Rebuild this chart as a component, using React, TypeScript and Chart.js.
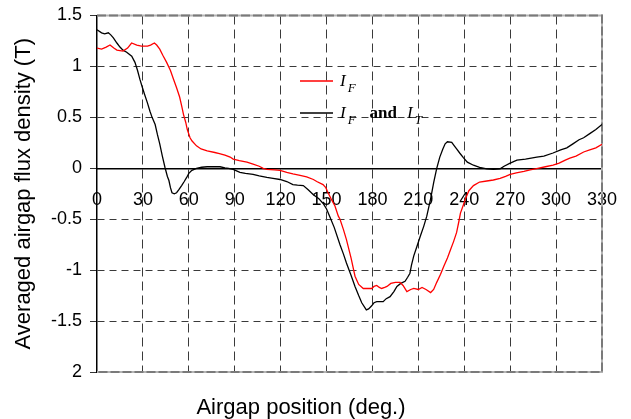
import React, { useEffect, useRef } from 'react';
import { Chart, registerables } from 'chart.js';

Chart.register(...registerables);

// ---- data ----
const xTickValues = [0, 30, 60, 90, 120, 150, 180, 210, 240, 270, 300, 330];
const yTickValues = [1.5, 1, 0.5, 0, -0.5, -1, -1.5, -2];
const yTickLabels = ['1.5', '1', '0.5', '0', '-0.5', '-1', '-1.5', '2'];

const seriesNames = ['I_F', 'I_F and I_T'];

const redDeg = [0, 3, 6, 8.5, 11, 13, 17, 20, 22.6, 26, 29, 33, 35, 37.5, 39, 41, 43, 45.5, 48, 50, 52, 54, 55.5, 56.5, 58, 59, 60.8, 62, 65, 68, 72, 77, 80, 83.6, 87, 89, 93, 98, 102, 106, 108.6, 111, 116, 119.6, 124, 128, 132.7, 137, 141.4, 143.6, 147.7, 149.5, 151, 153, 155.5, 157.7, 158.8, 161, 163, 166, 168.6, 171, 174, 177, 179.5, 181, 182.8, 184.5, 186, 188, 189.5, 192, 195, 198, 200, 202.5, 205, 207, 210, 212.4, 215, 218, 220, 222, 224.5, 226.7, 229, 231, 233, 235, 236.5, 237.5, 239.4, 240.8, 243, 246, 250, 254.7, 259, 263.4, 267, 270, 274, 279, 283, 288, 293, 298, 302, 306, 309, 313, 318, 322, 326, 330];
const redVal = [1.18, 1.17, 1.19, 1.21, 1.18, 1.16, 1.15, 1.18, 1.23, 1.21, 1.2, 1.2, 1.21, 1.23, 1.21, 1.17, 1.11, 1.04, 0.96, 0.875, 0.79, 0.7, 0.6, 0.53, 0.45, 0.38, 0.3, 0.27, 0.22, 0.19, 0.17, 0.155, 0.145, 0.13, 0.11, 0.09, 0.075, 0.06, 0.04, 0.02, 0.0, -0.01, -0.015, -0.02, -0.04, -0.055, -0.07, -0.085, -0.11, -0.13, -0.16, -0.19, -0.24, -0.3, -0.37, -0.47, -0.5, -0.6, -0.7, -0.88, -1.06, -1.14, -1.18, -1.18, -1.18, -1.16, -1.15, -1.17, -1.18, -1.17, -1.16, -1.13, -1.12, -1.12, -1.15, -1.21, -1.19, -1.18, -1.19, -1.17, -1.19, -1.22, -1.19, -1.12, -1.04, -0.96, -0.88, -0.8, -0.72, -0.63, -0.52, -0.44, -0.36, -0.3, -0.22, -0.17, -0.135, -0.125, -0.115, -0.1, -0.08, -0.06, -0.045, -0.03, -0.015, 0.0, 0.015, 0.03, 0.05, 0.08, 0.1, 0.12, 0.16, 0.18, 0.2, 0.235];

const blackDeg = [0, 3, 5, 7.4, 9, 10.7, 13, 15, 17, 19.4, 22.7, 24.8, 26.5, 28, 29.5, 31, 33, 34.6, 36, 38, 39.5, 41, 42.7, 44.4, 46, 47, 48, 49, 50.5, 52, 53.5, 55.3, 57, 58.6, 60, 62, 65, 68.4, 72, 77, 80.4, 83.6, 86, 89, 93.4, 97, 102, 106, 111, 115, 119.6, 124, 128, 131, 134.8, 138, 141.4, 145, 148, 150, 152, 155, 158.8, 161, 163, 166, 168.6, 171, 173, 176, 177.5, 179.5, 181, 182.8, 185, 187, 189, 191.5, 194, 196, 198.5, 201.3, 203, 204.5, 205.5, 207, 209, 211.2, 213.5, 215.5, 218, 220, 222, 224, 226, 227.5, 229, 231.8, 233.5, 235, 237, 239.4, 242, 246, 250, 254.7, 259, 263.4, 266, 270, 274.4, 280, 287.4, 292, 298, 303, 307, 311, 315, 318, 322, 326, 330];
const blackVal = [1.36, 1.33, 1.32, 1.33, 1.31, 1.28, 1.23, 1.19, 1.16, 1.14, 1.1, 1.04, 0.96, 0.875, 0.8, 0.73, 0.64, 0.56, 0.5, 0.43, 0.33, 0.24, 0.12, 0.01, -0.08, -0.12, -0.19, -0.24, -0.25, -0.24, -0.21, -0.17, -0.13, -0.09, -0.05, -0.02, 0.0, 0.01, 0.015, 0.015, 0.015, 0.005, 0.0, -0.01, -0.04, -0.05, -0.06, -0.075, -0.09, -0.1, -0.11, -0.13, -0.16, -0.165, -0.17, -0.21, -0.26, -0.3, -0.35, -0.4, -0.47, -0.58, -0.75, -0.84, -0.93, -1.05, -1.16, -1.25, -1.32, -1.39, -1.38, -1.35, -1.32, -1.31, -1.31, -1.31, -1.28, -1.26, -1.21, -1.16, -1.13, -1.11, -1.07, -1.03, -0.95, -0.86, -0.77, -0.67, -0.57, -0.47, -0.3, -0.14, 0.0, 0.11, 0.19, 0.24, 0.26, 0.255, 0.22, 0.19, 0.15, 0.105, 0.06, 0.03, 0.01, -0.005, -0.01, -0.005, 0.02, 0.05, 0.08, 0.09, 0.11, 0.12, 0.15, 0.18, 0.2, 0.24, 0.28, 0.3, 0.34, 0.38, 0.43];

const SANS = "'Liberation Sans', Arial, sans-serif";
const SERIF = "'Liberation Serif', 'Times New Roman', serif";

const framePlugin = {
  id: 'frame',
  beforeDatasetsDraw(chart: any) {
    const { ctx, chartArea: a } = chart;
    ctx.save();
    ctx.lineWidth = 2;
    ctx.strokeStyle = '#b4b4b4';
    ctx.setLineDash([]);
    ctx.beginPath();
    ctx.moveTo(a.left, a.top);
    ctx.lineTo(a.right, a.top);
    ctx.lineTo(a.right, a.bottom);
    ctx.lineTo(a.left, a.bottom);
    ctx.stroke();
    ctx.strokeStyle = '#7a7a7a';
    ctx.setLineDash([9, 3]);
    ctx.beginPath();
    ctx.moveTo(a.left, a.top);
    ctx.lineTo(a.right, a.top);
    ctx.lineTo(a.right, a.bottom);
    ctx.lineTo(a.left, a.bottom);
    ctx.stroke();
    ctx.restore();
  },
};

function drawLabel(ctx: any, x: number, y: number, main: string, sub: string) {
  ctx.font = `italic 17px ${SERIF}`;
  ctx.fillText(main, x, y);
  const w = ctx.measureText(main).width;
  ctx.font = `italic 13px ${SERIF}`;
  ctx.fillText(sub, x + w + 2, y + 6);
  return x + w + 2 + ctx.measureText(sub).width;
}

const legendPlugin = {
  id: 'customLegend',
  afterDraw(chart: any) {
    const { ctx, chartArea: a } = chart;
    const lx = a.left + 203;
    const ly1 = a.top + 65.5;
    const ly2 = a.top + 97.5;
    ctx.save();
    ctx.lineWidth = 1.3;
    ctx.strokeStyle = '#ff0000';
    ctx.beginPath();
    ctx.moveTo(lx, ly1);
    ctx.lineTo(lx + 33, ly1);
    ctx.stroke();
    ctx.strokeStyle = '#000000';
    ctx.beginPath();
    ctx.moveTo(lx, ly2);
    ctx.lineTo(lx + 33, ly2);
    ctx.stroke();
    ctx.fillStyle = '#000';
    ctx.textBaseline = 'alphabetic';
    ctx.textAlign = 'left';
    const [n1, n2] = seriesNames;
    const p1 = n1.split('_');
    drawLabel(ctx, lx + 40, ly1 + 4.5, p1[0], p1[1]);
    const parts = n2.split(' and ');
    const a1 = parts[0].split('_');
    let x = drawLabel(ctx, lx + 40, ly2 + 4.5, a1[0], a1[1]);
    ctx.font = `bold 17px ${SERIF}`;
    x += 14;
    ctx.fillText('and', x, ly2 + 4.5);
    x += ctx.measureText('and').width + 10;
    const a2 = parts[1].split('_');
    drawLabel(ctx, x, ly2 + 4.5, a2[0], a2[1]);
    ctx.restore();
  },
};

export default function App() {
  const ref = useRef<HTMLCanvasElement>(null);
  useEffect(() => {
    if (!ref.current) return;
    const gridDashColor = '#3a3a3a';
    const chart = new Chart(ref.current, {
      type: 'line',
      data: {
        datasets: [
          {
            label: seriesNames[0],
            data: redDeg.map((x, i) => ({ x, y: redVal[i] })),
            borderColor: '#ff0000',
            borderWidth: 1.3,
            pointRadius: 0,
            tension: 0,
          },
          {
            label: seriesNames[1],
            data: blackDeg.map((x, i) => ({ x, y: blackVal[i] })),
            borderColor: '#000000',
            borderWidth: 1.3,
            pointRadius: 0,
            tension: 0,
          },
        ],
      },
      options: {
        responsive: false,
        animation: false,
        layout: { padding: { top: 15.5, right: 29, left: 0, bottom: 0 } },
        plugins: {
          legend: { display: false },
          tooltip: { enabled: false },
          title: {
            display: true,
            position: 'bottom',
            text: 'Airgap position (deg.)',
            color: '#000',
            font: { family: SANS, size: 22, weight: 'normal', lineHeight: 1 },
            padding: { top: 25, bottom: 0 },
          },
        },
        scales: {
          x: {
            type: 'linear',
            min: 0,
            max: 330,
            position: { y: 0 } as any,
            afterBuildTicks: (scale: any) => {
              scale.ticks = xTickValues.map((v) => ({ value: v }));
            },
            afterFit: (scale: any) => {
              scale.paddingLeft = 0;
              scale.paddingRight = 0;
            },
            ticks: {
              color: '#000',
              font: { family: SANS, size: 18 },
              padding: 21,
              maxRotation: 0,
              autoSkip: false,
            },
            grid: {
              drawTicks: false,
              lineWidth: 1,
              color: (c: any) =>
                c.tick && (c.tick.value === 0 || c.tick.value === 330) ? 'rgba(0,0,0,0)' : gridDashColor,
            },
            border: { display: true, color: '#000', width: 1.5, dash: [9, 5] },
          },
          y: {
            type: 'linear',
            min: -2,
            max: 1.5,
            afterBuildTicks: (scale: any) => {
              scale.ticks = yTickValues.slice().reverse().map((v) => ({ value: v }));
            },
            afterFit: (scale: any) => {
              scale.width = 97;
              scale.paddingTop = 0;
              scale.paddingBottom = 0;
            },
            ticks: {
              color: '#000',
              font: { family: SANS, size: 18 },
              padding: 8,
              autoSkip: false,
              callback: (v: any) => {
                const i = yTickValues.findIndex((t) => Math.abs(t - Number(v)) < 1e-9);
                return i >= 0 ? yTickLabels[i] : '';
              },
            },
            grid: {
              drawTicks: true,
              tickLength: 7,
              tickColor: '#333',
              lineWidth: 1,
              color: (c: any) =>
                c.tick && (c.tick.value === 1.5 || c.tick.value === -2 || c.tick.value === 0)
                  ? 'rgba(0,0,0,0)'
                  : gridDashColor,
            },
            border: { display: true, color: '#000', width: 1.5, dash: [7, 5] },
            title: {
              display: true,
              text: 'Averaged airgap flux density (T)',
              color: '#000',
              font: { family: SANS, size: 22 },
              padding: { top: 11, bottom: 0 },
            },
          },
        },
      },
      plugins: [framePlugin, legendPlugin],
    });
    return () => chart.destroy();
  }, []);
  return (
    <div style={{ position: 'absolute', left: 0, top: 0, width: 631, height: 419 }}>
      <canvas ref={ref} width={631} height={419} />
    </div>
  );
}
